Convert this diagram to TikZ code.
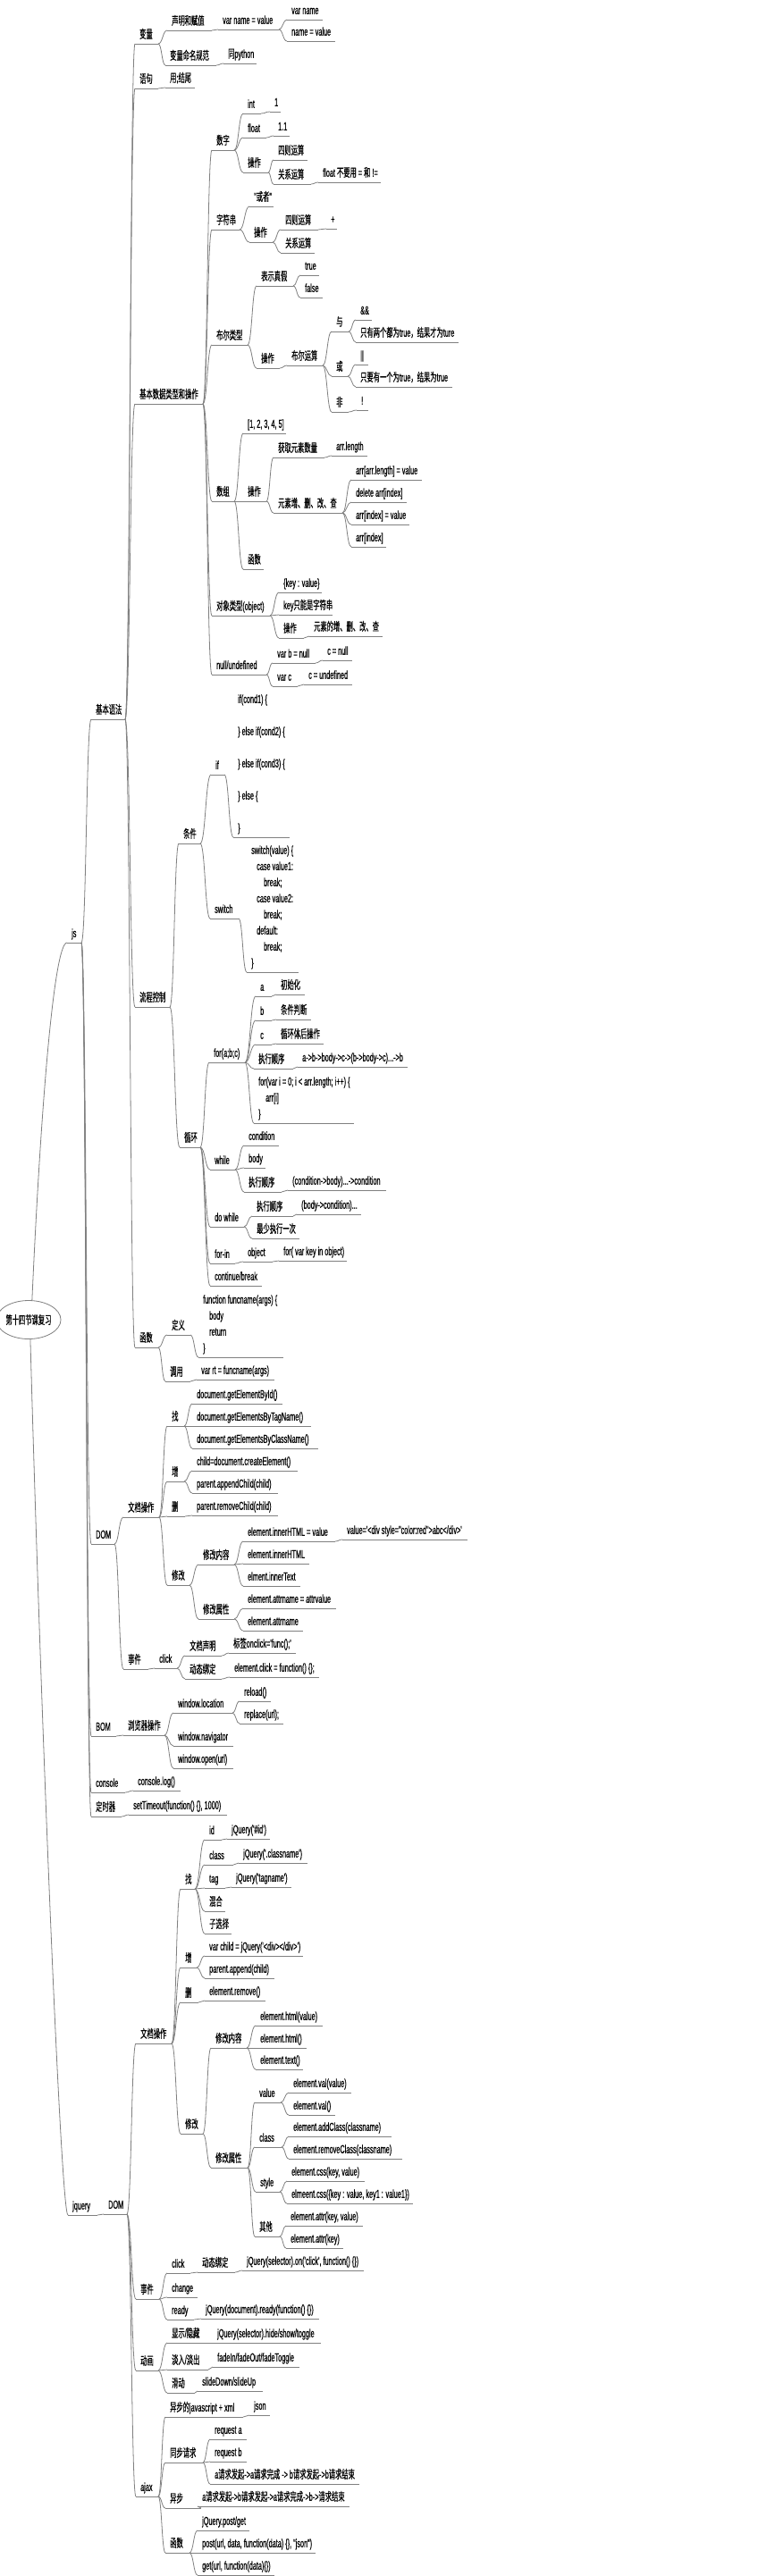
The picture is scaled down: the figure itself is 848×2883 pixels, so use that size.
\documentclass[tikz,border=0pt]{standalone}
\usepackage{fontspec}
\usetikzlibrary{calc,shapes.geometric}
\newfontfamily\latf{Liberation Sans}[FakeStretch=0.56,FakeBold=0.6]
\newfontfamily\cjkf{Noto Sans CJK SC}[FakeStretch=0.56,FakeBold=0.6]
\definecolor{lncol}{RGB}{128,128,128}
\XeTeXinterchartokenstate=1
\newXeTeXintercharclass\cjkcls
\newcount\cjkcnt
\newcommand\setcjkrange[2]{\cjkcnt=#1\relax\loop\XeTeXcharclass\cjkcnt=\cjkcls\relax\ifnum\cjkcnt<#2\relax\advance\cjkcnt by 1\relax\repeat}
\setcjkrange{"3000}{"303F}
\setcjkrange{"4E00}{"9FFF}
\setcjkrange{"FF00}{"FFEF}
\XeTeXinterchartoks 0 \cjkcls = {\cjkf}
\XeTeXinterchartoks 4095 \cjkcls = {\cjkf}
\XeTeXinterchartoks \cjkcls 0 = {\latf}
\XeTeXinterchartoks \cjkcls 4095 = {\latf}
\newcommand\blk[1]{\begin{tabular}[b]{@{}l@{}}#1\end{tabular}}
\newcommand\mm[5]{%
  \coordinate (#1-l) at (#2-5,#3);
  \coordinate (#1-r) at (#4,#3);
  \draw[ln] (#1-l) -- (#1-r);
  \node[txt] (#1) at (#2,#3-6) {#5};
}
\newcommand\lk[2]{%
  \foreach \cc in {#2}{%
    \draw[ln] let \p1=(#1-r), \p2=(\cc-l) in (\p1) .. controls ({(\x1+\x2)/2},\y1) and ({(\x1+\x2)/2},\y2) .. (\p2);
  }%
}
\begin{document}
\begin{tikzpicture}[x=1pt,y=-1pt,
  ln/.style={draw=lncol, line width=0.8pt},
  txt/.style={anchor=south west, inner sep=0pt, text depth=0pt, font=\latf\fontsize{13}{18}\selectfont},
  rootst/.style={draw=lncol, line width=0.8pt, ellipse, minimum width=64pt, minimum height=43pt, inner sep=0pt, font=\latf\fontsize{13}{18}\selectfont}]
\fill[white] (0,0) rectangle (848,2883);
\useasboundingbox (0,0) rectangle (848,2883);
\node[rootst] (root) at (32,1477) {第十四节课复习};
\mm{js}{80}{1055}{91}{js}
\mm{jq}{81}{2479}{109}{jquery}
\mm{jb}{107}{805}{140}{基本语法}
\mm{jd}{107}{1728}{128}{DOM}
\mm{jbom}{107}{1943}{130}{BOM}
\mm{jcon}{107}{2006}{140}{console}
\mm{jtm}{107}{2033}{136}{定时器}
\mm{bl}{156}{49}{177}{变量}
\mm{sent}{156}{99}{177}{语句}
\mm{dt}{156}{452}{227}{基本数据类型和操作}
\mm{flow}{156}{1127}{190}{流程控制}
\mm{fn}{156}{1508}{177}{函数}
\mm{decl}{192}{34}{237}{声明和赋值}
\mm{vnv}{249}{33}{312}{var name = value}
\mm{vn}{326}{22}{361}{var name}
\mm{nv}{326}{46}{375}{name = value}
\mm{nm}{190}{73}{242}{变量命名规范}
\mm{py}{255}{71}{287}{同python}
\mm{sende}{190}{98}{218}{用;结尾}
\mm{num}{242}{168}{262}{数字}
\mm{int}{277}{127}{292}{int}
\mm{one}{307}{125}{314}{1}
\mm{flt}{277}{154}{298}{float}
\mm{oneone}{311}{152}{324}{1.1}
\mm{nop}{277}{193}{300}{操作}
\mm{nar}{311}{179}{344}{四则运算}
\mm{nrel}{311}{206}{348}{关系运算}
\mm{nflt}{361}{204}{426}{float 不要用 = 和 !=}
\mm{str}{242}{257}{268}{字符串}
\mm{huo}{284}{231}{306}{"或者"}
\mm{sop}{284}{271}{305}{操作}
\mm{sar}{319}{257}{356}{四则运算}
\mm{plus}{370}{256}{377}{+}
\mm{srel}{319}{283}{352}{关系运算}
\mm{bool}{242}{386}{277}{布尔类型}
\mm{tf}{292}{320}{328}{表示真假}
\mm{tru}{341}{308}{357}{true}
\mm{fls}{341}{333}{361}{false}
\mm{bop}{292}{412}{313}{操作}
\mm{bar}{326}{409}{361}{布尔运算}
\mm{band}{376}{371}{390}{与}
\mm{andop}{403}{358}{416}{\&\&}
\mm{anddesc}{403}{383}{513}{只有两个都为true，结果才为ture}
\mm{bor}{376}{421}{389}{或}
\mm{orop}{403}{408}{412}{||}
\mm{ordesc}{403}{433}{506}{只要有一个为true，结果为true}
\mm{bnot}{376}{461}{390}{非}
\mm{notop}{404}{459}{412}{!}
\mm{arr}{242}{561}{262}{数组}
\mm{arrlit}{277}{485}{320}{[1, 2, 3, 4, 5]}
\mm{aop}{277}{561}{298}{操作}
\mm{acnt}{311}{512}{363}{获取元素数量}
\mm{alen}{376}{510}{411}{arr.length}
\mm{acrud}{311}{574}{383}{元素增、删、改、查}
\mm{aa}{398}{537}{472}{arr[arr.length] = value}
\mm{ab}{398}{562}{455}{delete arr[index]}
\mm{ac}{398}{587}{458}{arr[index] = value}
\mm{ad}{398}{612}{432}{arr[index]}
\mm{afn}{277}{637}{295}{函数}
\mm{obj}{242}{689}{302}{对象类型(object)}
\mm{okv}{317}{663}{360}{\{key : value\}}
\mm{okey}{317}{688}{372}{key只能是字符串}
\mm{oop}{317}{714}{340}{操作}
\mm{ocrud}{351}{712}{428}{元素的增、删、改、查}
\mm{nul}{242}{755}{298}{null/undefined}
\mm{vb}{310}{742}{353}{var b = null}
\mm{cn}{366}{739}{394}{c = null}
\mm{vc}{310}{768}{333}{var c}
\mm{cu}{345}{766}{394}{c = undefined}
\mm{cond}{205}{944}{224}{条件}
\mm{nif}{241}{867}{251}{if}
\mm{ifb}{266}{937}{324}{\blk{if(cond1) \{\\[18pt]\} else if(cond2) \{\\[18pt]\} else if(cond3) \{\\[18pt]\} else \{\\[18pt]\}}}
\mm{sw}{240}{1028}{267}{switch}
\mm{swb}{281}{1088}{334}{\blk{switch(value) \{\\\hspace*{6pt}case value1:\\\hspace*{14pt}break;\\\hspace*{6pt}case value2:\\\hspace*{14pt}break;\\\hspace*{6pt}default:\\\hspace*{14pt}break;\\\}}}
\mm{loop}{206}{1284}{224}{循环}
\mm{nfor}{239}{1189}{274}{for(a;b;c)}
\mm{fa}{291}{1115}{304}{a}
\mm{fai}{314}{1113}{341}{初始化}
\mm{fb}{291}{1142}{304}{b}
\mm{fbi}{314}{1141}{348}{条件判断}
\mm{fc}{291}{1169}{304}{c}
\mm{fci}{314}{1168}{362}{循环体后操作}
\mm{fo}{289}{1196}{328}{执行顺序}
\mm{foi}{338}{1194}{456}{a->b->body->c->(b->body->c)...->b}
\mm{fcode}{289}{1257}{396}{\blk{for(var i = 0; i < arr.length; i++) \{\\\hspace*{8pt}arr[i]\\\}}}
\mm{wh}{240}{1309}{263}{while}
\mm{wc}{278}{1282}{312}{condition}
\mm{wbd}{278}{1307}{297}{body}
\mm{wo}{278}{1334}{315}{执行顺序}
\mm{woi}{327}{1332}{432}{(condition->body)...->condition}
\mm{dw}{240}{1373}{273}{do while}
\mm{dwo}{287}{1361}{328}{执行顺序}
\mm{dwoi}{337}{1359}{404}{(body->condition)...}
\mm{dwl}{287}{1386}{335}{最少执行一次}
\mm{fin}{240}{1414}{263}{for-in}
\mm{fino}{277}{1412}{305}{object}
\mm{finc}{317}{1411}{388}{for( var key in object)}
\mm{cb}{240}{1439}{293}{continue/break}
\mm{fdef}{192}{1494}{213}{定义}
\mm{fdb}{227}{1519}{317}{\blk{function funcname(args) \{\\\hspace*{7pt}body\\\hspace*{7pt}return\\\}}}
\mm{fcall}{190}{1546}{213}{调用}
\mm{fcb}{225}{1544}{307}{var rt = funcname(args)}
\mm{dop}{143}{1698}{178}{文档操作}
\mm{dfind}{192}{1596}{206}{找}
\mm{ga}{220}{1571}{316}{document.getElementById()}
\mm{gb}{220}{1596}{348}{document.getElementsByTagName()}
\mm{gc}{220}{1621}{356}{document.getElementsByClassName()}
\mm{dadd}{192}{1658}{206}{增}
\mm{ca}{220}{1646}{333}{child=document.createElement()}
\mm{cbb}{220}{1671}{311}{parent.appendChild(child)}
\mm{ddel}{192}{1697}{207}{删}
\mm{ra}{220}{1696}{311}{parent.removeChild(child)}
\mm{dmod}{192}{1774}{212}{修改}
\mm{dmc}{227}{1751}{262}{修改内容}
\mm{iha}{277}{1725}{375}{element.innerHTML = value}
\mm{ihv}{388}{1723}{523}{value='<div style="color:red">abc</div>'}
\mm{ihb}{277}{1750}{346}{element.innerHTML}
\mm{itx}{277}{1775}{336}{elment.innerText}
\mm{dma}{227}{1812}{262}{修改属性}
\mm{ata}{277}{1800}{376}{element.attrname = attrvalue}
\mm{atb}{277}{1825}{339}{element.attrname}
\mm{dev}{143}{1868}{166}{事件}
\mm{dclk}{178}{1867}{198}{click}
\mm{ddecl}{212}{1853}{248}{文档声明}
\mm{ddecli}{261}{1850}{331}{标签onclick='func();'}
\mm{dbind}{212}{1879}{248}{动态绑定}
\mm{dbindi}{262}{1877}{357}{element.click = function() \{\};}
\mm{bro}{143}{1942}{184}{浏览器操作}
\mm{wl}{199}{1917}{260}{window.location}
\mm{rl}{273}{1904}{303}{reload()}
\mm{rp}{273}{1929}{317}{replace(url);}
\mm{wn}{199}{1954}{261}{window.navigator}
\mm{wop}{199}{1979}{261}{window.open(url)}
\mm{clog}{154}{2004}{202}{console.log()}
\mm{tset}{149}{2031}{254}{setTimeout(function() \{\}, 1000)}
\mm{qd}{121}{2478}{142}{DOM}
\mm{qop}{157}{2287}{192}{文档操作}
\mm{qfind}{207}{2114}{218}{找}
\mm{qid}{234}{2059}{248}{id}
\mm{qidi}{259}{2058}{302}{jQuery('\#id')}
\mm{qcls}{234}{2087}{261}{class}
\mm{qclsi}{272}{2085}{344}{jQuery('.classname')}
\mm{qtag}{234}{2113}{252}{tag}
\mm{qtagi}{264}{2112}{326}{jQuery('tagname')}
\mm{qmix}{234}{2139}{252}{混合}
\mm{qsub}{234}{2164}{259}{子选择}
\mm{qadd}{207}{2202}{220}{增}
\mm{qaa}{234}{2189}{339}{var child = jQuery('<div></div>')}
\mm{qab}{234}{2214}{307}{parent.append(child)}
\mm{qdel}{207}{2241}{222}{删}
\mm{qdeli}{234}{2239}{297}{element.remove()}
\mm{qmod}{207}{2388}{227}{修改}
\mm{qmc}{241}{2292}{276}{修改内容}
\mm{qha}{291}{2267}{361}{element.html(value)}
\mm{qhb}{291}{2292}{343}{element.html()}
\mm{qhc}{291}{2316}{339}{element.text()}
\mm{qma}{241}{2426}{277}{修改属性}
\mm{qval}{290}{2353}{314}{value}
\mm{qva}{328}{2342}{393}{element.val(value)}
\mm{qvb}{328}{2367}{375}{element.val()}
\mm{qcl}{290}{2403}{315}{class}
\mm{qca}{328}{2391}{438}{element.addClass(classname)}
\mm{qcb}{328}{2416}{450}{element.removeClass(classname)}
\mm{qsty}{291}{2453}{313}{style}
\mm{qsa}{326}{2441}{408}{element.css(key, value)}
\mm{qsb}{326}{2466}{462}{elmeent.css(\{key : value, key1 : value1\})}
\mm{qoth}{290}{2503}{313}{其他}
\mm{qoa}{325}{2491}{406}{element.attr(key, value)}
\mm{qob}{325}{2516}{384}{element.attr(key)}
\mm{qev}{157}{2573}{178}{事件}
\mm{qclk}{192}{2544}{213}{click}
\mm{qbind}{226}{2543}{263}{动态绑定}
\mm{qbindi}{276}{2541}{407}{jQuery(selector).on('click', function() \{\})}
\mm{qchg}{192}{2571}{221}{change}
\mm{qrdy}{192}{2596}{217}{ready}
\mm{qrdyi}{230}{2595}{357}{jQuery(document).ready(function() \{\})}
\mm{qani}{157}{2653}{177}{动画}
\mm{qsh}{192}{2622}{235}{显示/隐藏}
\mm{qshi}{243}{2622}{359}{jQuery(selector).hide/show/toggle}
\mm{qfd}{192}{2652}{233}{淡入/淡出}
\mm{qfdi}{243}{2649}{335}{fadeIn/fadeOut/fadeToggle}
\mm{qsl}{192}{2678}{218}{滑动}
\mm{qsli}{226}{2676}{294}{slideDown/slideUp}
\mm{qajax}{157}{2794}{177}{ajax}
\mm{qax}{190}{2705}{272}{异步的javascript + xml}
\mm{qjson}{284}{2703}{302}{json}
\mm{qsync}{190}{2756}{227}{同步请求}
\mm{qra}{240}{2730}{276}{request a}
\mm{qrb}{240}{2755}{276}{request b}
\mm{qrs}{240}{2780}{402}{a请求发起->a请求完成 -> b请求发起->b请求结束}
\mm{qasync}{190}{2807}{225}{异步}
\mm{qasynci}{226}{2805}{391}{a请求发起->b请求发起->a请求完成->b->请求结束}
\mm{qfn}{190}{2857}{212}{函数}
\mm{qfa}{226}{2832}{279}{jQuery.post/get}
\mm{qfb}{226}{2857}{353}{post(url, data, function(data) \{\}, "json")}
\mm{qfc}{226}{2882}{307}{get(url, function(data)\{\})}
% connectors
\draw[ln] (root.80) .. controls (45,1250) and (60,1055) .. (js-l);
\draw[ln] (root.-85) .. controls (45,1900) and (68,2479) .. (jq-l);
\lk{js}{jb,jd,jbom,jcon,jtm}
\lk{jb}{bl,sent,dt,flow,fn}
\lk{bl}{decl,nm}
\lk{decl}{vnv}
\lk{vnv}{vn,nv}
\lk{nm}{py}
\lk{sent}{sende}
\lk{dt}{num,str,bool,arr,obj,nul}
\lk{num}{int,flt,nop}
\lk{int}{one}
\lk{flt}{oneone}
\lk{nop}{nar,nrel}
\lk{nrel}{nflt}
\lk{str}{huo,sop}
\lk{sop}{sar,srel}
\lk{sar}{plus}
\lk{bool}{tf,bop}
\lk{tf}{tru,fls}
\lk{bop}{bar}
\lk{bar}{band,bor,bnot}
\lk{band}{andop,anddesc}
\lk{bor}{orop,ordesc}
\lk{bnot}{notop}
\lk{arr}{arrlit,aop,afn}
\lk{aop}{acnt,acrud}
\lk{acnt}{alen}
\lk{acrud}{aa,ab,ac,ad}
\lk{obj}{okv,okey,oop}
\lk{oop}{ocrud}
\lk{nul}{vb,vc}
\lk{vb}{cn}
\lk{vc}{cu}
\lk{flow}{cond,loop}
\lk{cond}{nif,sw}
\lk{nif}{ifb}
\lk{sw}{swb}
\lk{loop}{nfor,wh,dw,fin,cb}
\lk{nfor}{fa,fb,fc,fo,fcode}
\lk{fa}{fai}
\lk{fb}{fbi}
\lk{fc}{fci}
\lk{fo}{foi}
\lk{wh}{wc,wbd,wo}
\lk{wo}{woi}
\lk{dw}{dwo,dwl}
\lk{dwo}{dwoi}
\lk{fin}{fino}
\lk{fino}{finc}
\lk{fn}{fdef,fcall}
\lk{fdef}{fdb}
\lk{fcall}{fcb}
\lk{jd}{dop,dev}
\lk{dop}{dfind,dadd,ddel,dmod}
\lk{dfind}{ga,gb,gc}
\lk{dadd}{ca,cbb}
\lk{ddel}{ra}
\lk{dmod}{dmc,dma}
\lk{dmc}{iha,ihb,itx}
\lk{iha}{ihv}
\lk{dma}{ata,atb}
\lk{dev}{dclk}
\lk{dclk}{ddecl,dbind}
\lk{ddecl}{ddecli}
\lk{dbind}{dbindi}
\lk{jbom}{bro}
\lk{bro}{wl,wn,wop}
\lk{wl}{rl,rp}
\lk{jcon}{clog}
\lk{jtm}{tset}
\lk{jq}{qd}
\lk{qd}{qop,qev,qani,qajax}
\lk{qop}{qfind,qadd,qdel,qmod}
\lk{qfind}{qid,qcls,qtag,qmix,qsub}
\lk{qid}{qidi}
\lk{qcls}{qclsi}
\lk{qtag}{qtagi}
\lk{qadd}{qaa,qab}
\lk{qdel}{qdeli}
\lk{qmod}{qmc,qma}
\lk{qmc}{qha,qhb,qhc}
\lk{qma}{qval,qcl,qsty,qoth}
\lk{qval}{qva,qvb}
\lk{qcl}{qca,qcb}
\lk{qsty}{qsa,qsb}
\lk{qoth}{qoa,qob}
\lk{qev}{qclk,qchg,qrdy}
\lk{qclk}{qbind}
\lk{qbind}{qbindi}
\lk{qrdy}{qrdyi}
\lk{qani}{qsh,qfd,qsl}
\lk{qsh}{qshi}
\lk{qfd}{qfdi}
\lk{qsl}{qsli}
\lk{qajax}{qax,qsync,qasync,qfn}
\lk{qax}{qjson}
\lk{qsync}{qra,qrb,qrs}
\lk{qasync}{qasynci}
\lk{qfn}{qfa,qfb,qfc}
\end{tikzpicture}
\end{document}
